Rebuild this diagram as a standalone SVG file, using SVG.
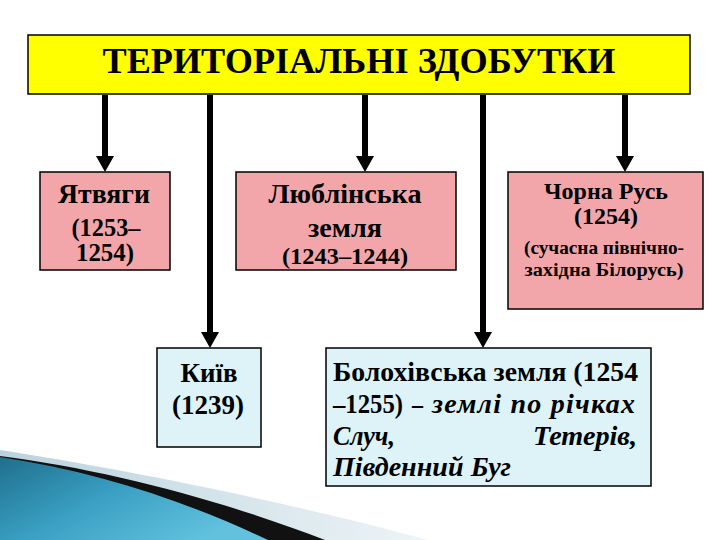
<svg xmlns="http://www.w3.org/2000/svg" width="720" height="540" viewBox="0 0 720 540">
<defs>
  <linearGradient id="blueG" x1="0" y1="0" x2="1" y2="0.6">
    <stop offset="0" stop-color="#1f6f8c"/>
    <stop offset="0.5" stop-color="#3aa0c4"/>
    <stop offset="1" stop-color="#62c2de"/>
  </linearGradient>
  <linearGradient id="hazeG" x1="0" y1="0" x2="1" y2="0">
    <stop offset="0" stop-color="#b9d3de"/>
    <stop offset="1" stop-color="#eef4f7"/>
  </linearGradient>
</defs>
<style>
  .box { stroke: #000; stroke-width: 1.5; }
  .pink { fill: #F3A6AA; }
  .blue { fill: #DDF3F8; }
  .t { font-weight: bold; fill: #000; }
  .c { text-anchor: middle; }
  .i { font-style: italic; }
  .conn line { stroke: #000; stroke-width: 6; }
  .conn path { fill: #000; }
</style>
<rect width="720" height="540" fill="#fff"/>

<!-- decorative swoosh -->
<path d="M0,450 C130,470 300,505 428,540 L0,540 Z" fill="url(#hazeG)"/>
<path d="M0,456 C110,470 230,503 325,540 L0,540 Z" fill="#111"/>
<path d="M0,457 C100,472 190,503 268,540 L0,540 Z" fill="url(#blueG)"/>

<g font-family="Liberation Serif, DejaVu Serif, Times New Roman, serif">
<g id="title">
  <rect class="box" x="28" y="35" width="662" height="59" fill="#FFFF00"/>
  <text class="t c" x="359" y="73" font-size="36" textLength="513" lengthAdjust="spacingAndGlyphs">ТЕРИТОРІАЛЬНІ ЗДОБУТКИ</text>
</g>

<g class="conn">
  <line x1="105" y1="95" x2="105" y2="158"/>
  <line x1="210" y1="95" x2="210" y2="334"/>
  <line x1="365" y1="95" x2="365" y2="158"/>
  <line x1="483" y1="95" x2="483" y2="334"/>
  <line x1="625" y1="95" x2="625" y2="158"/>
  <path d="M96,156 L114,156 L105,172 Z"/>
  <path d="M201,332 L219,332 L210,348 Z"/>
  <path d="M356,156 L374,156 L365,172 Z"/>
  <path d="M474,332 L492,332 L483,348 Z"/>
  <path d="M616,156 L634,156 L625,172 Z"/>
</g>

<g id="yatvyagy">
  <rect class="box pink" x="40" y="172" width="130" height="98"/>
  <text class="t c" x="104" y="203" font-size="28" textLength="92" lengthAdjust="spacingAndGlyphs">Ятвяги</text>
  <text class="t c" x="106" y="236" font-size="25" textLength="69" lengthAdjust="spacingAndGlyphs">(1253–</text>
  <text class="t c" x="105" y="261" font-size="25" textLength="58" lengthAdjust="spacingAndGlyphs">1254)</text>
</g>

<g id="lyublin">
  <rect class="box pink" x="236" y="172" width="220" height="98"/>
  <text class="t c" x="345" y="203" font-size="28" textLength="153" lengthAdjust="spacingAndGlyphs">Люблінська</text>
  <text class="t c" x="345" y="237" font-size="28" textLength="74" lengthAdjust="spacingAndGlyphs">земля</text>
  <text class="t c" x="345" y="264" font-size="24" textLength="126" lengthAdjust="spacingAndGlyphs">(1243–1244)</text>
</g>

<g id="chorna">
  <rect class="box pink" x="508" y="172" width="195" height="137"/>
  <text class="t c" x="606" y="199" font-size="23" textLength="124" lengthAdjust="spacingAndGlyphs">Чорна Русь</text>
  <text class="t c" x="606" y="224" font-size="23" textLength="64" lengthAdjust="spacingAndGlyphs">(1254)</text>
  <text class="t c" x="604" y="254" font-size="19" textLength="160" lengthAdjust="spacingAndGlyphs">(сучасна північно-</text>
  <text class="t c" x="604" y="276" font-size="19" textLength="159" lengthAdjust="spacingAndGlyphs">західна Білорусь)</text>
</g>

<g id="kyiv">
  <rect class="box blue" x="157" y="348" width="104" height="99"/>
  <text class="t c" x="209" y="382" font-size="28" textLength="57" lengthAdjust="spacingAndGlyphs">Київ</text>
  <text class="t c" x="208" y="414" font-size="28" textLength="72" lengthAdjust="spacingAndGlyphs">(1239)</text>
</g>

<g id="bolokhiv">
  <rect class="box blue" x="326" y="348" width="325" height="138"/>
  <text class="t" x="333" y="381" font-size="28" textLength="305" lengthAdjust="spacingAndGlyphs">Болохівська земля (1254</text>
  <text class="t" x="333" y="413" font-size="28" textLength="70" lengthAdjust="spacingAndGlyphs">–1255)</text>
  <text class="t" x="412" y="413" font-size="28" textLength="11" lengthAdjust="spacingAndGlyphs">–</text>
  <text class="t i" x="432" y="413" font-size="28" textLength="203" lengthAdjust="spacing">землі по річках</text>
  <text class="t i" x="333" y="445" font-size="28" textLength="62" lengthAdjust="spacingAndGlyphs">Случ,</text>
  <text class="t i" x="637" y="445" font-size="28" text-anchor="end" textLength="104" lengthAdjust="spacingAndGlyphs">Тетерів,</text>
  <text class="t i" x="333" y="476" font-size="28" textLength="178" lengthAdjust="spacingAndGlyphs">Південний Буг</text>
</g>
</g>
</svg>
